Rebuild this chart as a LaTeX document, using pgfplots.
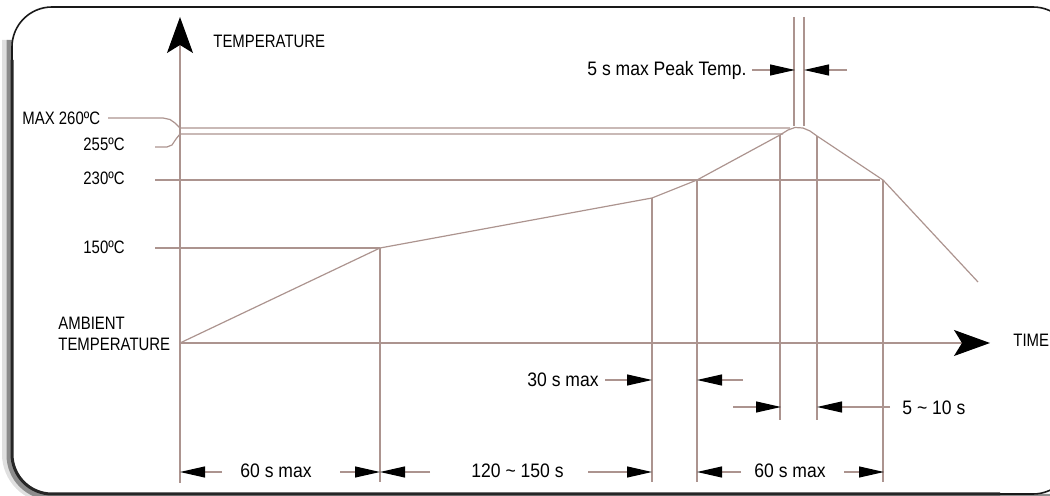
\documentclass[border=0pt]{standalone}
\usepackage{pgfplots}
\pgfplotsset{compat=1.18}
\usetikzlibrary{arrows.meta}
\usepackage{fontspec}
\setmainfont{Liberation Sans}
\newfontfamily\capf[FakeStretch=0.83]{Liberation Sans}
\newfontfamily\lowf[FakeStretch=0.9]{Liberation Sans}
\definecolor{ln}{RGB}{172,148,143}
\newcommand{\cf}{\capf\fontsize{9}{10.5}\selectfont}
\newcommand{\lf}{\lowf\fontsize{9.75}{11}\selectfont}
\tikzset{
  pl/.style={ln, solid, line width=0.6pt, mark=none},
  dim/.style={ln, line width=0.55pt, -{Triangle[length=12.5pt,width=5.5pt,color=black]}},
  big/.style={ln, line width=0.6pt, -{Stealth[length=18pt,width=13pt,inset=4pt,color=black]}},
}
\begin{document}
\begin{tikzpicture}
\begin{axis}[
  width=525pt, height=248pt, scale only axis,
  xmin=0, xmax=1050, ymin=0, ymax=496, y dir=reverse,
  hide axis, clip=false,
]
% frame with shadow
\draw[line width=3pt, black!12, rounded corners=23pt] (axis cs:5,40) -- (axis cs:5,500) -- (axis cs:1060,500);
\draw[line width=3pt, black!45, rounded corners=21pt] (axis cs:9.5,40) -- (axis cs:9.5,497) -- (axis cs:1060,497);
\draw[line width=0.8pt, black!90, rounded corners=20pt] (axis cs:12,7) rectangle (axis cs:1073,494);
\draw[line width=1.5pt, black!85, rounded corners=20pt] (axis cs:12,60) -- (axis cs:12,494) -- (axis cs:1000,494);

% reflow profile
\addplot[pl] coordinates {(180,343) (380,248) (652,198) (697,180) (780,135) (788,130) (795,127.5) (803,128) (810,131) (817,136) (883,180) (978,282)};
% reference temperature lines
\addplot[pl] coordinates {(108,118) (163,118) (170,119.5) (175,123) (180,128) (790,128)};
\addplot[pl] coordinates {(155,147) (167,147) (172,145) (176,139) (180,134) (783,134)};
\addplot[pl] coordinates {(155,180) (880,180)};
\addplot[pl] coordinates {(155,248) (380,248)};
% vertical time markers
\addplot[pl] coordinates {(380,248) (380,482)};
\addplot[pl] coordinates {(652,198) (652,482)};
\addplot[pl] coordinates {(697,180) (697,482)};
\addplot[pl] coordinates {(780,135) (780,420)};
\addplot[pl] coordinates {(817,136) (817,420)};
\addplot[pl] coordinates {(883,180) (883,482)};
\addplot[pl] coordinates {(794,17) (794,126)};
\addplot[pl] coordinates {(804,17) (804,126)};

% axes
\draw[big] (axis cs:180,483) -- (axis cs:180,17);
\draw[big] (axis cs:180,343) -- (axis cs:990,343);

% dimension arrows
\draw[dim] (axis cs:752,70) -- (axis cs:795,70);
\draw[dim] (axis cs:847,70) -- (axis cs:804,70);
\draw[dim] (axis cs:605,380) -- (axis cs:652,380);
\draw[dim] (axis cs:743,380) -- (axis cs:697,380);
\draw[dim] (axis cs:733,407) -- (axis cs:781,407);
\draw[dim] (axis cs:890,407) -- (axis cs:817,407);
\draw[dim] (axis cs:222,472) -- (axis cs:180,472);
\draw[dim] (axis cs:340,472) -- (axis cs:380,472);
\draw[dim] (axis cs:430,472) -- (axis cs:380,472);
\draw[dim] (axis cs:588,472) -- (axis cs:652,472);
\draw[dim] (axis cs:741,472) -- (axis cs:697,472);
\draw[dim] (axis cs:844,472) -- (axis cs:884,472);

% labels
\node[anchor=base west, inner sep=0] at (axis cs:213,48) {\cf TEMPERATURE};
\node[anchor=base west, inner sep=0] at (axis cs:22,124.5) {\cf MAX 260ºC};
\node[anchor=base west, inner sep=0] at (axis cs:83,151) {\cf 255ºC};
\node[anchor=base west, inner sep=0] at (axis cs:83,185) {\cf 230ºC};
\node[anchor=base west, inner sep=0] at (axis cs:83,254) {\cf 150ºC};
\node[anchor=base west, inner sep=0] at (axis cs:58,330) {\cf AMBIENT};
\node[anchor=base west, inner sep=0] at (axis cs:58,351) {\cf TEMPERATURE};
\node[anchor=base west, inner sep=0] at (axis cs:1013,347) {\cf TIME};
\node[anchor=base west, inner sep=0] at (axis cs:587,76) {\lf 5 s max Peak Temp.};
\node[anchor=base west, inner sep=0] at (axis cs:527,387) {\lf 30 s max};
\node[anchor=base west, inner sep=0] at (axis cs:902,415) {\lf 5 \textasciitilde\ 10 s};
\node[anchor=base west, inner sep=0] at (axis cs:240,478) {\lf 60 s max};
\node[anchor=base west, inner sep=0] at (axis cs:471,478) {\lf 120 \textasciitilde\ 150 s};
\node[anchor=base west, inner sep=0] at (axis cs:754,478) {\lf 60 s max};
\end{axis}
\pgfresetboundingbox
\useasboundingbox (current axis.south west) rectangle (current axis.north east);
\end{tikzpicture}
\end{document}
